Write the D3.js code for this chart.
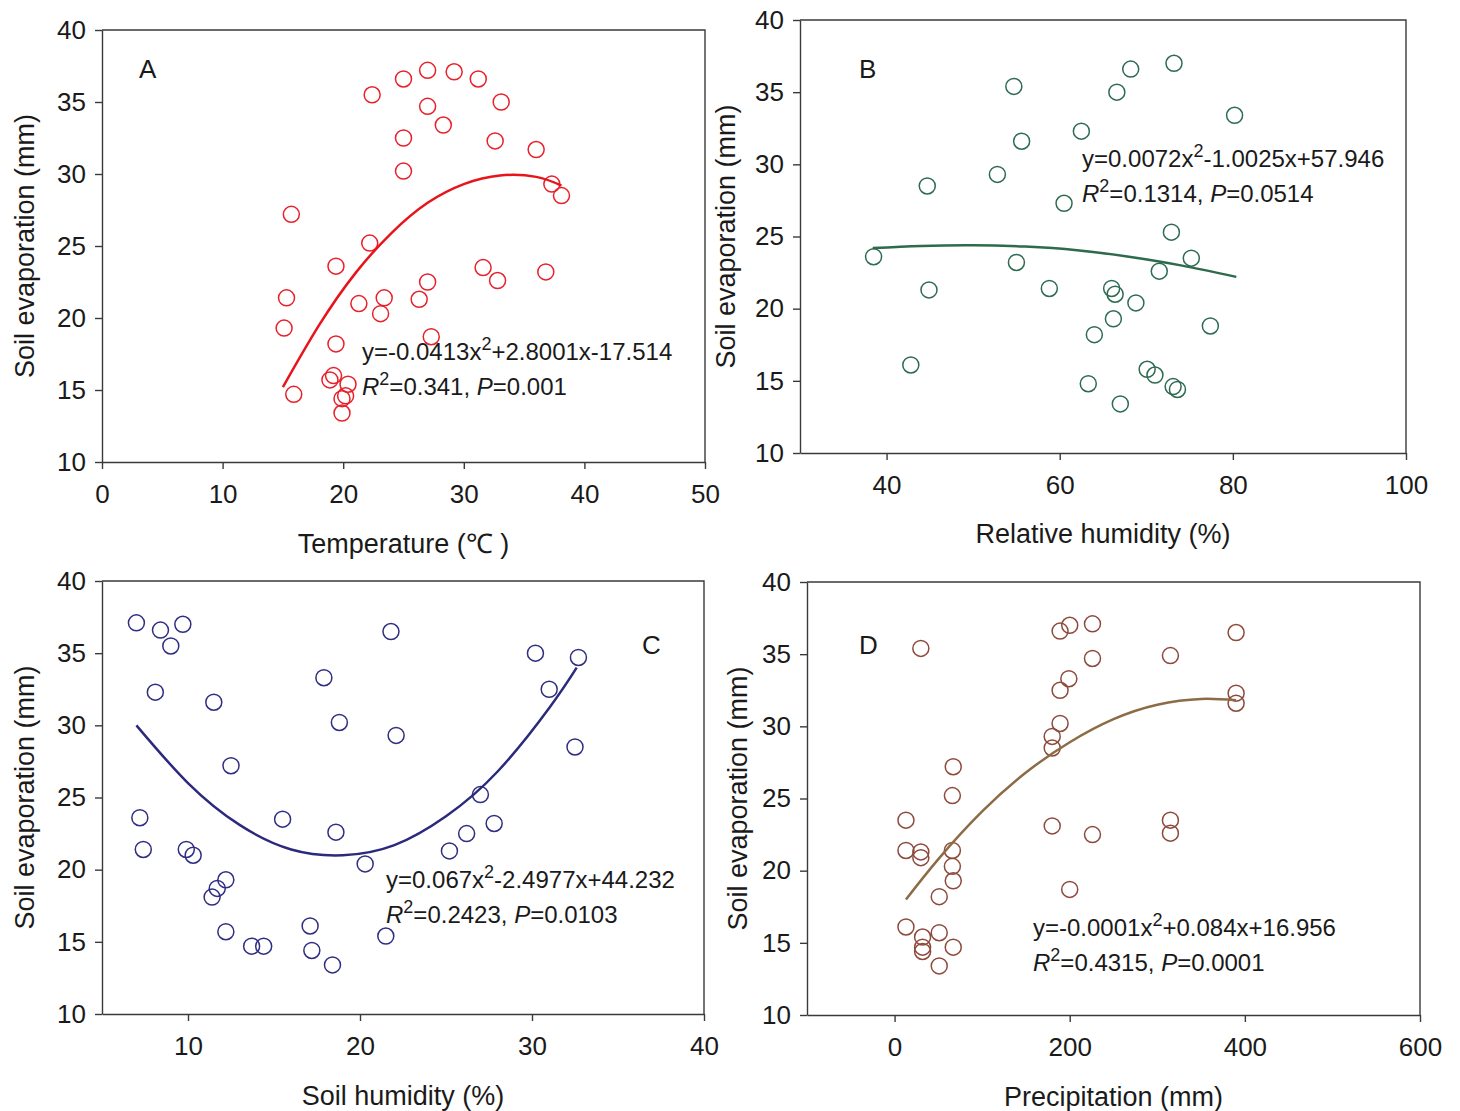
<!DOCTYPE html>
<html>
<head>
<meta charset="utf-8">
<script src="https://cdn.jsdelivr.net/npm/d3@7"></script>
<style>
    body { margin: 0; background: #fff; }
    svg text { font-family: "Liberation Sans", Arial, sans-serif; fill: #1a1a1a; }
</style>
</head>
<body>
<script>

// Datos

// A: temperatura (C) vs evaporacion (mm)
const temperaturaA = [22.4, 25.0, 27.0, 29.2, 31.2, 33.1, 27.0, 28.3, 25.0, 32.6, 36.0, 25.0, 37.3, 38.1, 15.7, 22.2, 19.4, 15.3, 15.1, 21.3, 23.4, 23.1, 26.3, 27.0, 31.6, 32.8, 36.8, 27.3, 19.4, 15.9, 18.9, 19.2, 20.4, 20.2, 19.9, 19.9];
const evaporacionA = [35.5, 36.6, 37.2, 37.1, 36.6, 35.0, 34.7, 33.4, 32.5, 32.3, 31.7, 30.2, 29.3, 28.5, 27.2, 25.2, 23.6, 21.4, 19.3, 21.0, 21.4, 20.3, 21.3, 22.5, 23.5, 22.6, 23.2, 18.7, 18.2, 14.7, 15.7, 16.0, 15.4, 14.6, 14.4, 13.4];

// B: humedad relativa (%)
const humedadB = [54.7, 68.2, 73.2, 66.6, 80.2, 62.5, 55.6, 52.8, 44.7, 60.5, 72.9, 38.5, 55.0, 75.2, 71.5, 44.9, 58.8, 66.0, 66.4, 68.8, 66.2, 64.0, 77.4, 42.8, 70.1, 71.0, 73.1, 73.6, 63.3, 67.0];
const evaporacionB = [35.4, 36.6, 37.0, 35.0, 33.4, 32.3, 31.6, 29.3, 28.5, 27.3, 25.3, 23.6, 23.2, 23.5, 22.6, 21.3, 21.4, 21.4, 21.0, 20.4, 19.3, 18.2, 18.8, 16.1, 15.8, 15.4, 14.6, 14.4, 14.8, 13.4];

// C: humedad del suelo (%)
const sueloC = [7.0, 8.4, 9.7, 9.0, 8.1, 11.5, 21.8, 17.9, 18.8, 22.1, 12.5, 7.2, 15.5, 18.6, 7.4, 9.9, 10.3, 20.3, 12.2, 11.7, 11.4, 12.2, 13.7, 14.4, 17.1, 17.2, 18.4, 21.5, 30.2, 32.7, 31.0, 32.5, 27.0, 27.8, 26.2, 25.2];
const evaporacionC = [37.1, 36.6, 37.0, 35.5, 32.3, 31.6, 36.5, 33.3, 30.2, 29.3, 27.2, 23.6, 23.5, 22.6, 21.4, 21.4, 21.0, 20.4, 19.3, 18.7, 18.1, 15.7, 14.7, 14.7, 16.1, 14.4, 13.4, 15.4, 35.0, 34.7, 32.5, 28.5, 25.2, 23.2, 22.5, 21.3];

// D: precipitacion (mm)
const lluviaD = [30, 189, 200, 226, 226, 315, 199, 189, 189, 180, 180, 67, 66, 13, 180, 226, 315, 315, 13, 30, 30, 66, 66, 67, 51, 200, 13, 32, 51, 32, 32, 67, 51, 390, 390, 390];
const evaporacionD = [35.4, 36.6, 37.0, 37.1, 34.7, 34.9, 33.3, 32.5, 30.2, 29.3, 28.5, 27.2, 25.2, 23.5, 23.1, 22.5, 23.5, 22.6, 21.4, 21.3, 20.9, 21.4, 20.3, 19.3, 18.2, 18.7, 16.1, 15.4, 15.7, 14.7, 14.4, 14.7, 13.4, 36.5, 32.3, 31.6];

// Curvas de ajuste (puntos leidos sobre la linea)
const curvaAx = [15, 18, 21, 24, 27, 30, 33, 36, 38.1];
const curvaAy = [15.2, 19.5, 23.1, 25.9, 28.0, 29.3, 29.9, 29.8, 29.2];
const curvaBx = [38.4, 44, 50, 56, 62, 68, 74, 80.4];
const curvaBy = [24.2, 24.35, 24.4, 24.3, 24.05, 23.6, 23.0, 22.2];
const curvaCx = [7, 10, 13, 16, 19, 22, 25, 28, 31, 32.6];
const curvaCy = [30.0, 26.0, 23.1, 21.4, 21.0, 21.7, 23.7, 26.8, 31.2, 34.0];
const curvaDx = [13, 50, 100, 150, 200, 250, 300, 350, 390];
const curvaDy = [18.0, 20.8, 24.1, 26.8, 28.9, 30.5, 31.5, 31.9, 31.8];

// Ticks
const ticksY = [10, 15, 20, 25, 30, 35, 40];
const ticksXA = [0, 10, 20, 30, 40, 50];
const ticksXB = [40, 60, 80, 100];
const ticksXC = [10, 20, 30, 40];
const ticksXD = [0, 200, 400, 600];

const tituloY = 'Soil evaporation (mm)';

//Define el svg
var svg = d3.select('body')
    .append('svg')
    .attr('width', 1460)
    .attr('height', 1111);

const zip = (a, b) => a.map((v, i) => [v, b[i]]);

function dibujaPanel(p) {

    const xScale = d3.scaleLinear().domain(p.xDom).range([p.left, p.right]);
    const yScale = d3.scaleLinear().domain([10, 40]).range([p.bottom, p.top]);

    const g = svg.append('g');

    //Ejes
    const xAxis = d3.axisBottom(xScale).tickValues(p.ticksX).tickSize(7).tickSizeOuter(0).tickPadding(16);
    const yAxis = d3.axisLeft(yScale).tickValues(ticksY).tickSize(7).tickSizeOuter(0).tickPadding(9);

    g.append('g')
        .attr('transform', 'translate(0,' + p.bottom + ')')
        .call(xAxis);

    g.append('g')
        .attr('transform', 'translate(' + p.left + ',0)')
        .call(yAxis);

    g.selectAll('.domain, .tick line').attr('stroke', '#3a3a3a').attr('stroke-width', 1.4);
    g.selectAll('.tick text').attr('font-size', 26).attr('fill', '#1a1a1a');

    //Marco arriba y derecha
    g.append('path')
        .attr('d', 'M' + p.left + ',' + p.top + 'H' + p.right + 'V' + p.bottom)
        .attr('fill', 'none')
        .attr('stroke', '#3a3a3a')
        .attr('stroke-width', 1.4);

    //Puntos
    g.selectAll('circle')
        .data(p.puntos)
        .enter()
        .append('circle')
        .attr('cx', (d) => xScale(d[0]))
        .attr('cy', (d) => yScale(d[1]))
        .attr('r', 8)
        .attr('fill', 'none')
        .attr('stroke', p.color)
        .attr('stroke-width', 1.5);

    //Curva
    const linea = d3.line()
        .x((d) => xScale(d[0]))
        .y((d) => yScale(d[1]))
        .curve(d3.curveNatural);

    g.append('path')
        .attr('d', linea(p.curva))
        .attr('fill', 'none')
        .attr('stroke', p.colorLinea)
        .attr('stroke-width', 2.5);

    //Letra del panel
    g.append('text')
        .attr('x', p.letra[1])
        .attr('y', p.letra[2])
        .attr('font-size', 26)
        .text(p.letra[0]);

    //Ecuacion
    const eq = g.append('text')
        .attr('x', p.eqX)
        .attr('y', p.eqY)
        .attr('font-size', 24);
    eq.append('tspan').text(p.eq[0]);
    eq.append('tspan').attr('dy', -10).attr('font-size', 18).text('2');
    eq.append('tspan').attr('dy', 10).text(p.eq[1]);

    const r2 = g.append('text')
        .attr('x', p.eqX)
        .attr('y', p.eqY + 35)
        .attr('font-size', 24);
    r2.append('tspan').attr('font-style', 'italic').text('R');
    r2.append('tspan').attr('dy', -10).attr('font-size', 18).text('2');
    r2.append('tspan').attr('dy', 10).text('=' + p.r2 + ', ');
    r2.append('tspan').attr('font-style', 'italic').text('P');
    r2.append('tspan').text('=' + p.p);

    //Titulos
    g.append('text')
        .attr('x', (p.left + p.right) / 2)
        .attr('y', p.xTituloY)
        .attr('text-anchor', 'middle')
        .attr('font-size', 27)
        .text(p.xTitulo);

    g.append('text')
        .attr('transform', 'translate(' + p.yTituloX + ',' + (p.top + p.bottom) / 2 + ') rotate(-90)')
        .attr('text-anchor', 'middle')
        .attr('font-size', 27)
        .text(tituloY);
}

dibujaPanel({
    left: 102, right: 705, top: 30, bottom: 462,
    xDom: [0, 50], ticksX: ticksXA,
    puntos: zip(temperaturaA, evaporacionA), curva: zip(curvaAx, curvaAy),
    color: '#e8202a', colorLinea: '#e8141c',
    letra: ['A', 139, 78],
    eq: ['y=-0.0413x', '+2.8001x-17.514'], r2: '0.341', p: '0.001', eqX: 362, eqY: 360,
    xTitulo: 'Temperature (\u2103 )', xTituloY: 553, yTituloX: 34
});

dibujaPanel({
    left: 800, right: 1406, top: 20, bottom: 453,
    xDom: [30, 100], ticksX: ticksXB,
    puntos: zip(humedadB, evaporacionB), curva: zip(curvaBx, curvaBy),
    color: '#2e6b52', colorLinea: '#2d6b4c',
    letra: ['B', 859, 78],
    eq: ['y=0.0072x', '-1.0025x+57.946'], r2: '0.1314', p: '0.0514', eqX: 1082, eqY: 167,
    xTitulo: 'Relative humidity (%)', xTituloY: 543, yTituloX: 735
});

dibujaPanel({
    left: 102, right: 704, top: 581, bottom: 1014,
    xDom: [5, 40], ticksX: ticksXC,
    puntos: zip(sueloC, evaporacionC), curva: zip(curvaCx, curvaCy),
    color: '#2f2e82', colorLinea: '#2b2a7c',
    letra: ['C', 642, 654],
    eq: ['y=0.067x', '-2.4977x+44.232'], r2: '0.2423', p: '0.0103', eqX: 386, eqY: 888,
    xTitulo: 'Soil humidity (%)', xTituloY: 1105, yTituloX: 34
});

dibujaPanel({
    left: 807, right: 1420, top: 582, bottom: 1015,
    xDom: [-100, 600], ticksX: ticksXD,
    puntos: zip(lluviaD, evaporacionD), curva: zip(curvaDx, curvaDy),
    color: '#8d4a3c', colorLinea: '#8c6c44',
    letra: ['D', 859, 654],
    eq: ['y=-0.0001x', '+0.084x+16.956'], r2: '0.4315', p: '0.0001', eqX: 1033, eqY: 936,
    xTitulo: 'Precipitation (mm)', xTituloY: 1106, yTituloX: 747
});

</script>
</body>
</html>
